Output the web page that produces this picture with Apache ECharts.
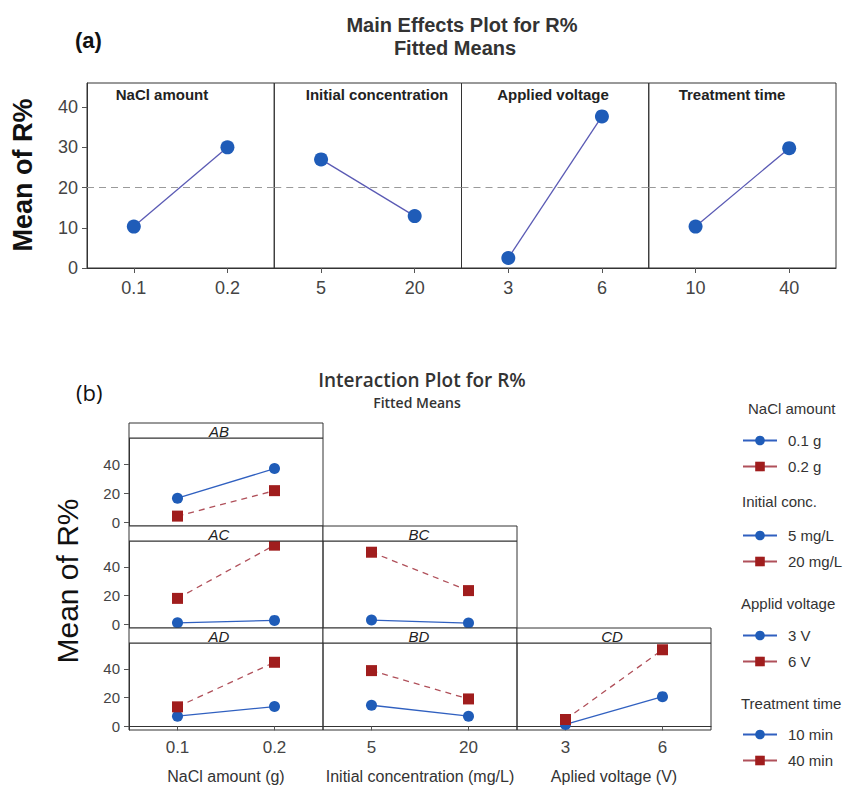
<!DOCTYPE html>
<html><head><meta charset="utf-8">
<script src="https://cdn.jsdelivr.net/npm/echarts@6/dist/echarts.min.js"></script>
<style>html,body{margin:0;padding:0;background:#fff}#c{width:859px;height:786px}</style>
</head><body><div id="c"></div>
<script>
// ---------- DATA ----------
const mainFactors = ['NaCl amount', 'Initial concentration', 'Applied voltage', 'Treatment time'];
const mainLevels = [['0.1', '0.2'], ['5', '20'], ['3', '6'], ['10', '40']];
const mainMeans = [[10.3, 30.0], [27.0, 12.9], [2.5, 37.7], [10.3, 29.8]];
const overallMean = 20;
const mainYTicks = [0, 10, 20, 30, 40];

const levelsA = ['0.1', '0.2'];
const levelsB = ['5', '20'];
const levelsC = ['3', '6'];
const interYTicks = [0, 20, 40];

const panelNames = ['AB', 'AC', 'BC', 'AD', 'BD', 'CD'];
const lowMeans  = { AB: [16.6, 37.0], AC: [1.1, 2.8], BC: [3.0, 0.9], AD: [7.1, 13.8], BD: [14.7, 7.1], CD: [1.4, 20.7] };
const highMeans = { AB: [4.3, 21.8],  AC: [18.1, 55.1], BC: [50.2, 23.5], AD: [13.6, 44.6], BD: [38.8, 19.1], CD: [4.8, 53.3] };

const legendTitles = ['NaCl amount', 'Initial conc.', 'Applid voltage', 'Treatment time'];
const legendItems = [['0.1 g', '0.2 g'], ['5 mg/L', '20 mg/L'], ['3 V', '6 V'], ['10 min', '40 min']];
const xAxisTitles = ['NaCl amount (g)', 'Initial concentration (mg/L)', 'Aplied voltage (V)'];

// ---------- LAYOUT / STYLE ----------
const F = 'Liberation Sans, Arial, sans-serif';
const F2 = 'Open Sans, Noto Sans, sans-serif';
const BORDER = '#333';
const BLUE = '#1f5cb8', RED = '#a01d1d';

const grids = [], xAxes = [], yAxes = [], series = [], graphics = [];

// (a) main effects
for (let i = 0; i < 4; i++) {
  grids.push({ left: 87 + i * 187.25, top: 83, width: 187.25, height: 185, show: true, borderColor: BORDER, borderWidth: 1, backgroundColor: 'transparent' });
  xAxes.push({ type: 'category', gridIndex: i, data: mainLevels[i], boundaryGap: true,
    axisLine: { show: true, lineStyle: { color: BORDER } },
    axisTick: { show: true, alignWithLabel: true, length: 5, lineStyle: { color: '#555' } },
    axisLabel: { fontSize: 18, color: '#444', fontFamily: F, margin: 11 } });
  yAxes.push({ type: 'value', gridIndex: i, min: 0, max: 46, show: i === 0,
    splitLine: { show: false },
    axisLine: { show: true, lineStyle: { color: BORDER } },
    axisTick: { show: true, length: 5, customValues: mainYTicks, lineStyle: { color: '#555' } },
    axisLabel: { fontSize: 18, color: '#444', fontFamily: F, margin: 9, customValues: mainYTicks } });
  series.push({ type: 'line', xAxisIndex: i, yAxisIndex: i, data: mainMeans[i], name: mainFactors[i],
    symbol: 'circle', symbolSize: 14, itemStyle: { color: BLUE },
    lineStyle: { color: '#5a5ab4', width: 1.3 }, silent: true, animation: false,
    markLine: { silent: true, symbol: 'none', label: { show: false },
      lineStyle: { type: [7, 5], color: '#9a9a9a', width: 1.2 }, data: [{ yAxis: overallMean }] } });
}

// (b) interaction plots
const colX = [129, 323, 517], colW = 194;
const rowTop = [438, 541, 643], rowH = [88, 87, 87];
const headerTextX = [219, 419, 612];
const panelPos = { AB: [0, 0], AC: [1, 0], BC: [1, 1], AD: [2, 0], BD: [2, 1], CD: [2, 2] };
const colLevels = [levelsA, levelsB, levelsC];
const rowTraceNames = [legendItems[1], legendItems[2], legendItems[3]];

panelNames.forEach((p) => {
  const [r, c] = panelPos[p];
  const gi = grids.length;
  grids.push({ left: colX[c], top: rowTop[r], width: colW, height: rowH[r], show: true, borderColor: BORDER, borderWidth: 1, backgroundColor: 'transparent' });
  const bottom = r === 2;
  xAxes.push({ type: 'category', gridIndex: gi, data: colLevels[c], boundaryGap: true,
    axisLine: { show: bottom, lineStyle: { color: BORDER } },
    axisTick: { show: bottom, alignWithLabel: true, length: 4, lineStyle: { color: '#555' } },
    axisLabel: { show: bottom, fontSize: 17, color: '#444', fontFamily: F, margin: 9 },
    name: bottom ? xAxisTitles[c] : '', nameLocation: 'middle', nameGap: 38,
    nameTextStyle: { fontSize: 16, color: '#333', fontFamily: F } });
  yAxes.push({ type: 'value', gridIndex: gi, min: -2.5, max: 58, show: c === 0,
    splitLine: { show: false },
    axisLine: { show: true, lineStyle: { color: BORDER } },
    axisTick: { show: true, length: 5, customValues: interYTicks, lineStyle: { color: '#555' } },
    axisLabel: { fontSize: 15, color: '#444', fontFamily: F, margin: 9, customValues: interYTicks } });
  series.push({ type: 'line', xAxisIndex: gi, yAxisIndex: gi, name: rowTraceNames[r][0], data: lowMeans[p],
    symbol: 'circle', symbolSize: 11, itemStyle: { color: BLUE },
    lineStyle: { color: '#3060c0', width: 1.3, type: 'solid' }, animation: false });
  series.push({ type: 'line', xAxisIndex: gi, yAxisIndex: gi, name: rowTraceNames[r][1], data: highMeans[p],
    symbol: 'rect', symbolSize: 11, itemStyle: { color: RED },
    lineStyle: { color: '#b0505a', width: 1.3, type: [6, 5] }, animation: false });
  // header strip
  graphics.push({ type: 'rect', shape: { x: colX[c], y: rowTop[r] - 15, width: colW, height: 15 },
    style: { fill: '#fff', stroke: BORDER, lineWidth: 1 }, z: 10 });
  graphics.push({ type: 'text', x: headerTextX[c], y: rowTop[r] - 7, z: 11,
    style: { text: p, fontSize: 15, fontStyle: 'italic', fontFamily: F, fill: '#222', align: 'center', verticalAlign: 'middle' } });
});

// legend-only series for first factor
series.push({ type: 'line', xAxisIndex: 4, yAxisIndex: 4, name: legendItems[0][0], data: [], symbol: 'circle', itemStyle: { color: BLUE }, lineStyle: { color: '#3060c0' } });
series.push({ type: 'line', xAxisIndex: 4, yAxisIndex: 4, name: legendItems[0][1], data: [], symbol: 'rect', itemStyle: { color: RED }, lineStyle: { color: '#b0505a' } });

// legends
const legendTop = [433, 528, 628, 727];
const legendHeadY = [408, 501, 603, 703];
const legendHeadX = [748, 742, 741, 741];
const legends = legendItems.map((items, k) => ({
  data: items, orient: 'vertical', left: 742, top: legendTop[k], padding: 0,
  itemWidth: 34, itemHeight: 12, itemGap: 11, selectedMode: false,
  lineStyle: { type: 'solid' },
  textStyle: { fontSize: 15, color: '#333', fontFamily: F, padding: [0, 0, 0, 6] }
}));
legendTitles.forEach((t, k) => {
  graphics.push({ type: 'text', x: legendHeadX[k], y: legendHeadY[k],
    style: { text: t, fontSize: 15, fontFamily: F, fill: '#333', align: 'left', verticalAlign: 'middle' } });
});

// titles & labels
const txt = (text, x, y, o) => graphics.push(Object.assign({ type: 'text', x, y,
  style: Object.assign({ text, fontFamily: F, fill: '#222', align: 'center', verticalAlign: 'middle' }, o || {}) }));
txt('(a)', 75, 40, { fontSize: 22, fontWeight: 'bold', align: 'left', fill: '#111' });
txt('Main Effects Plot for R%', 462, 25, { fontSize: 20, fontWeight: 'bold', fill: '#333' });
txt('Fitted Means', 455, 48, { fontSize: 20, fontWeight: 'bold', fill: '#333' });
const headX = [162, 377, 553, 732];
mainFactors.forEach((f, i) => txt(f, headX[i], 94, { fontSize: 15, fontWeight: 'bold', fill: '#222' }));
graphics.push({ type: 'text', x: 23, y: 175, rotation: Math.PI / 2,
  style: { text: 'Mean of R%', fontSize: 27, fontWeight: 'bold', fontFamily: F, fill: '#111', align: 'center', verticalAlign: 'middle' } });
txt('(b)', 76, 392, { fontSize: 22, fontFamily: F2, align: 'left', fill: '#111' });
txt('Interaction Plot for R%', 422, 380, { fontSize: 19, fontWeight: 600, fontFamily: F2, fill: '#333' });
txt('Fitted Means', 417, 402, { fontSize: 14, fontWeight: 600, fontFamily: F2, fill: '#333' });
graphics.push({ type: 'text', x: 67, y: 581, rotation: Math.PI / 2,
  style: { text: 'Mean of R%', fontSize: 30, fontFamily: F, fill: '#111', align: 'center', verticalAlign: 'middle' } });

const chart = echarts.init(document.getElementById('c'), null, { renderer: 'svg' });
chart.setOption({
  animation: false,
  backgroundColor: '#fff',
  grid: grids, xAxis: xAxes, yAxis: yAxes, series: series,
  legend: legends, graphic: graphics
});
</script></body></html>
